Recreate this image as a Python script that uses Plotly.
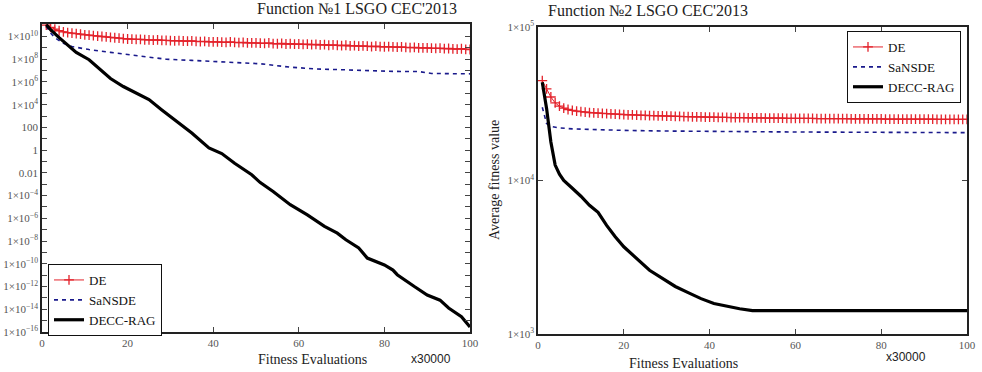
import plotly.graph_objects as go

# ---------------- data ----------------
x_de = list(range(1, 101))

# Function 1 (log-scale)
f1_de = [
    1.0e11, 6.3e10, 4.5e10, 3.2e10, 2.6e10, 2.2e10, 2.0e10, 1.8e10, 1.6e10, 1.4e10,
    1.3e10, 1.2e10, 1.1e10, 1.0e10, 9.2e9, 8.5e9, 7.8e9, 7.2e9, 6.6e9, 6.0e9,
    5.8e9, 5.5e9, 5.7e9, 5.2e9, 5.0e9, 4.8e9, 5.0e9, 4.6e9, 4.5e9, 4.3e9,
    4.2e9, 4.4e9, 4.0e9, 3.9e9, 4.1e9, 3.7e9, 3.6e9, 3.8e9, 3.4e9, 3.3e9,
    3.4e9, 3.2e9, 3.1e9, 3.3e9, 3.0e9, 2.9e9, 3.0e9, 2.8e9, 2.7e9, 2.8e9,
    2.6e9, 2.5e9, 2.7e9, 2.4e9, 2.3e9, 2.5e9, 2.2e9, 2.3e9, 2.1e9, 2.2e9,
    2.0e9, 2.1e9, 1.9e9, 2.0e9, 1.8e9, 1.9e9, 1.7e9, 1.8e9, 1.7e9, 1.6e9,
    1.7e9, 1.5e9, 1.6e9, 1.4e9, 1.5e9, 1.4e9, 1.3e9, 1.4e9, 1.3e9, 1.25e9,
    1.3e9, 1.2e9, 1.15e9, 1.2e9, 1.1e9, 1.05e9, 1.1e9, 1.0e9, 9.8e8, 1.0e9,
    9.5e8, 9.0e8, 9.4e8, 8.6e8, 8.8e8, 8.2e8, 7.8e8, 8.4e8, 7.5e8, 7.2e8,
]

f1_sansde_x = [1, 2, 3, 5, 7, 11, 16, 23, 29, 35, 41, 47, 51, 58, 64, 70, 76, 82, 88, 91, 95, 100]
f1_sansde = [7.9e10, 2.0e10, 7.9e9, 2.5e9, 1.3e9, 7.1e8, 4.0e8, 1.8e8, 1.0e8, 7.9e7, 6.3e7,
             5.2e7, 4.0e7, 2.0e7, 1.4e7, 1.2e7, 1.0e7, 8.5e6, 8.3e6, 5.6e6, 5.4e6, 5.2e6]

f1_decc_x = [1, 2, 4, 6, 8, 11, 14, 16, 19, 22, 25, 28, 32, 35, 39, 42, 45, 49, 51, 54, 58,
             62, 66, 69, 71, 74, 76, 80, 82, 83, 87, 90, 93, 95, 98, 100]
f1_decc = [1.1e11, 4.0e10, 7.9e9, 1.6e9, 4.0e8, 9.1e7, 8.5e6, 2.0e6, 4.0e5, 1.1e5, 2.8e4,
           3.5e3, 2.5e2, 32, 1.6, 0.5, 7.1e-2, 6.8e-3, 1.4e-3, 2.3e-4, 1.6e-5, 2.0e-6,
           2.0e-7, 5.0e-8, 1.3e-8, 2.5e-9, 3.2e-10, 7.9e-11, 2.8e-11, 1.1e-11, 1.0e-12,
           1.8e-13, 6.3e-14, 1.3e-14, 2.2e-15, 2.8e-16]

# Function 2 (log-scale)
f2_de = [
    44700, 39500, 35000, 32000, 30500, 29600, 29000, 28600, 28300, 28100,
    27900, 27700, 27600, 27500, 27400, 27300, 27200, 27100, 27000, 26900,
    26800, 26800, 26700, 26600, 26600, 26500, 26500, 26400, 26400, 26300,
    26300, 26200, 26200, 26100, 26100, 26000, 26000, 26000, 25900, 25900,
    25900, 25800, 25800, 25800, 25700, 25700, 25700, 25700, 25600, 25600,
    25600, 25600, 25500, 25500, 25500, 25500, 25500, 25400, 25400, 25400,
    25400, 25400, 25400, 25400, 25300, 25300, 25300, 25300, 25300, 25300,
    25300, 25300, 25200, 25200, 25200, 25200, 25200, 25200, 25200, 25200,
    25100, 25100, 25100, 25100, 25100, 25100, 25100, 25100, 25100, 25100,
    25100, 25100, 25000, 25000, 25000, 25000, 25000, 25000, 25000, 25000,
]

f2_sansde_x = [1, 2, 3, 5, 8, 12, 20, 30, 45, 60, 80, 100]
f2_sansde = [30000, 23500, 22500, 22000, 21700, 21500, 21200, 21000, 20800, 20700, 20600, 20500]

f2_decc_x = [1, 2, 3, 4, 5, 6, 8, 10, 12, 14, 16, 18, 20, 23, 26, 29, 32, 35, 38, 41, 44,
             47, 50, 60, 70, 80, 90, 100]
f2_decc = [43600, 29500, 17800, 12600, 11000, 10000, 8900, 7900, 6900, 6200, 5100, 4300,
           3700, 3100, 2600, 2300, 2040, 1860, 1700, 1580, 1510, 1460, 1420, 1420, 1420,
           1420, 1420, 1420]

x_ticks = [0, 20, 40, 60, 80, 100]
f1_ytick_exp = list(range(-16, 11))
f1_ytick_text = {10: "1×10<sup>10</sup>", 8: "1×10<sup>8</sup>", 6: "1×10<sup>6</sup>",
                 4: "1×10<sup>4</sup>", 2: "100", 0: "1", -2: "0.01",
                 -4: "1×10<sup>−4</sup>", -6: "1×10<sup>−6</sup>", -8: "1×10<sup>−8</sup>",
                 -10: "1×10<sup>−10</sup>", -12: "1×10<sup>−12</sup>",
                 -14: "1×10<sup>−14</sup>", -16: "1×10<sup>−16</sup>"}
f2_ytick_vals = [1e3, 1e4, 1e5]
f2_ytick_text = ["1×10<sup>3</sup>", "1×10<sup>4</sup>", "1×10<sup>5</sup>"]

series_names = ["DE", "SaNSDE", "DECC-RAG"]

# ---------------- style ----------------
W, H = 982, 372
RED = "#e3222b"
BLUE = "#1a1a8c"
BLACK = "#000000"
SERIF = "Times New Roman, Liberation Serif, serif"
SANS = "Arial, Liberation Sans, sans-serif"


def px_x(p):
    return p / W


def px_y(p):
    return 1 - p / H


fig = go.Figure()


def add_set(xa, ya, leg, de_y, sx, sy, dx, dy):
    fig.add_trace(go.Scatter(
        x=x_de, y=de_y, mode="lines+markers", name=series_names[0],
        line=dict(color=RED, width=1),
        marker=dict(symbol="cross-thin", size=7, color=RED, line=dict(color=RED, width=1.3)),
        xaxis=xa, yaxis=ya, legend=leg))
    fig.add_trace(go.Scatter(
        x=sx, y=sy, mode="lines", name=series_names[1],
        line=dict(color=BLUE, width=1.6, dash="4px,4px"),
        xaxis=xa, yaxis=ya, legend=leg))
    fig.add_trace(go.Scatter(
        x=dx, y=dy, mode="lines", name=series_names[2],
        line=dict(color=BLACK, width=3.2),
        xaxis=xa, yaxis=ya, legend=leg))


add_set("x", "y", "legend", f1_de, f1_sansde_x, f1_sansde, f1_decc_x, f1_decc)
add_set("x2", "y2", "legend2", f2_de, f2_sansde_x, f2_sansde, f2_decc_x, f2_decc)

axis_common = dict(showline=True, linecolor="#222", linewidth=1.5, mirror="ticks",
                   ticks="inside", ticklen=5, tickcolor="#444", tickwidth=1,
                   showgrid=False, zeroline=False, automargin=False,
                   tickfont=dict(family=SERIF, size=11, color="#555"))

fig.update_layout(
    template="none",
    width=W, height=H, autosize=False,
    margin=dict(l=0, r=0, t=0, b=0, autoexpand=False),
    paper_bgcolor="white", plot_bgcolor="white",
    showlegend=True,
    font=dict(family=SERIF),
    xaxis=dict(domain=[px_x(42), px_x(470)], range=[0, 100], tickvals=x_ticks,
               anchor="y", **axis_common),
    yaxis=dict(domain=[px_y(332), px_y(24)], type="log", range=[-16, 11.1],
               tickvals=[10.0 ** k for k in f1_ytick_exp],
               ticktext=[f1_ytick_text.get(k, "") for k in f1_ytick_exp],
               anchor="x", **axis_common),
    xaxis2=dict(domain=[px_x(538), px_x(967)], range=[0, 100], tickvals=x_ticks,
                anchor="y2", **axis_common),
    yaxis2=dict(domain=[px_y(334), px_y(27)], type="log", range=[3, 5],
                tickvals=f2_ytick_vals, ticktext=f2_ytick_text,
                anchor="x2", **axis_common),
    legend=dict(x=px_x(48), y=px_y(264), xanchor="left", yanchor="top",
                bordercolor="#111", borderwidth=1, bgcolor="white",
                font=dict(family=SERIF, size=13, color="#111"),
                tracegroupgap=0, itemwidth=30),
    legend2=dict(x=px_x(847), y=px_y(31), xanchor="left", yanchor="top",
                 bordercolor="#111", borderwidth=1, bgcolor="white",
                 font=dict(family=SERIF, size=13, color="#111"),
                 tracegroupgap=0, itemwidth=30),
)

ann = []
ann.append(dict(text="Function №1 LSGO CEC'2013", x=px_x(255), y=px_y(9), xref="paper",
                yref="paper", yanchor="middle", showarrow=False,
                font=dict(family=SERIF, size=16, color="#222")))
ann.append(dict(text="Function №2 LSGO CEC'2013", x=px_x(750), y=px_y(11), xref="paper",
                yref="paper", yanchor="middle", showarrow=False,
                font=dict(family=SERIF, size=16, color="#222")))
ann.append(dict(text="Fitness Evaluations", x=px_x(256), y=px_y(359), xref="paper",
                yref="paper", yanchor="middle", showarrow=False,
                font=dict(family=SERIF, size=14, color="#222")))
ann.append(dict(text="Fitness Evaluations", x=px_x(740), y=px_y(363), xref="paper",
                yref="paper", yanchor="middle", showarrow=False,
                font=dict(family=SERIF, size=14, color="#222")))
ann.append(dict(text="x30000", x=px_x(431), y=px_y(359), xref="paper",
                yref="paper", yanchor="middle", showarrow=False,
                font=dict(family=SANS, size=12, color="#222")))
ann.append(dict(text="x30000", x=px_x(928), y=px_y(357), xref="paper",
                yref="paper", yanchor="middle", showarrow=False,
                font=dict(family=SANS, size=12, color="#222")))
ann.append(dict(text="Average fitness value", x=px_x(494), y=px_y(180), xref="paper",
                yref="paper", xanchor="center", yanchor="middle", showarrow=False,
                textangle=-90, font=dict(family=SERIF, size=14, color="#222")))
fig.update_layout(annotations=ann)

fig.write_html("out.html", config={"displayModeBar": False},
               post_script="document.body.style.margin='0px';document.body.style.overflow='hidden';")
